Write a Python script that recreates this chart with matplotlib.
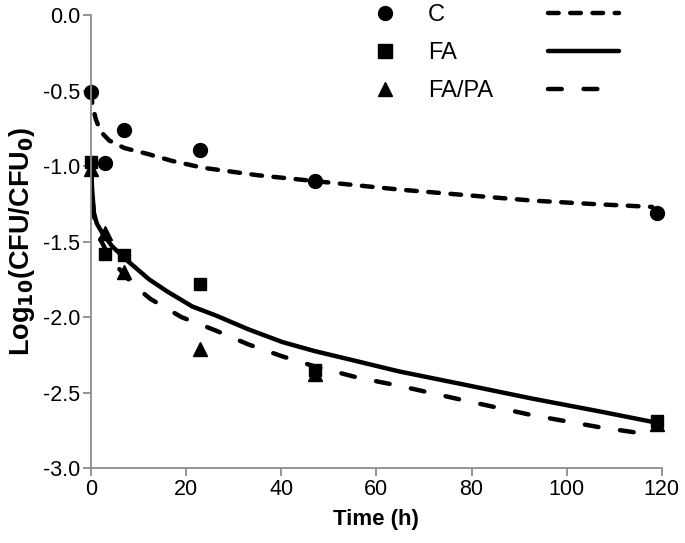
import matplotlib
matplotlib.use("Agg")
import matplotlib.pyplot as plt
from matplotlib.lines import Line2D

plt.rcParams['font.family'] = ['Liberation Sans', 'DejaVu Sans']
plt.rcParams['mathtext.default'] = 'bf'

# observed data
t_obs = [0, 3, 7, 23, 47, 119]
c_obs = [-0.51, -0.98, -0.76, -0.89, -1.10, -1.31]
fa_obs = [-0.97, -1.58, -1.59, -1.78, -2.35, -2.69]
fapa_obs = [-1.02, -1.44, -1.70, -2.21, -2.38, -2.71]

# fitted curves
c_fit_t = [0, 0.3, 1, 2, 3.8, 7, 12, 17, 23.4, 35, 47.4, 64.8, 80, 92.8, 105, 118]
c_fit_y = [-0.51, -0.60, -0.69, -0.77, -0.83, -0.88, -0.92, -0.965, -1.01, -1.06, -1.10, -1.155, -1.195, -1.228, -1.25, -1.27]
fa_fit_t = [0, 0.2, 0.6, 1.2, 2.3, 4.4, 7.4, 12.2, 16, 21.3, 26.3, 33, 40.2, 47, 54.3, 64.8, 78.9, 92.8, 107, 119]
fa_fit_y = [-0.97, -1.15, -1.31, -1.38, -1.44, -1.53, -1.62, -1.75, -1.83, -1.93, -1.99, -2.08, -2.165, -2.225, -2.28, -2.36, -2.45, -2.54, -2.625, -2.70]
fapa_fit_t = [0, 0.2, 0.6, 1.7, 3.5, 5.9, 9, 12.5, 19, 26.3, 33, 40.2, 47.4, 56, 64.8, 78.9, 92.8, 107, 118]
fapa_fit_y = [-1.02, -1.18, -1.33, -1.47, -1.58, -1.68, -1.79, -1.88, -2.00, -2.09, -2.18, -2.26, -2.33, -2.40, -2.455, -2.555, -2.65, -2.73, -2.78]

labels = ['C', 'FA', 'FA/PA']
markers = ['o', 's', '^']

fig = plt.figure(figsize=(6.85, 5.43), dpi=100)
ax = fig.add_axes([0.133, 0.138, 0.833, 0.834])

lw = 3.2
dash_c = (2.4, 2.6)
dash_fapa = (3.1, 4.9)
ax.plot(c_fit_t, c_fit_y, color='black', lw=lw, dashes=dash_c, dash_capstyle='round')
ax.plot(fa_fit_t, fa_fit_y, color='black', lw=lw, solid_capstyle='round', solid_joinstyle='round')
ax.plot(fapa_fit_t, fapa_fit_y, color='black', lw=lw, dashes=dash_fapa, dash_capstyle='round')

ms = 10
ax.plot(t_obs, c_obs, 'o', color='black', ms=ms, ls='none', clip_on=False)
ax.plot(t_obs, fa_obs, 's', color='black', ms=ms - 0.8, ls='none', clip_on=False)
ax.plot(t_obs, fapa_obs, '^', color='black', ms=ms + 0.5, ls='none', clip_on=False)

ax.set_xlim(0, 120)
ax.set_ylim(-3.0, 0.0)
ax.set_xticks([0, 20, 40, 60, 80, 100, 120])
ax.set_yticks([0.0, -0.5, -1.0, -1.5, -2.0, -2.5, -3.0])
ax.set_yticklabels(['0.0', '-0.5', '-1.0', '-1.5', '-2.0', '-2.5', '-3.0'])

for s in ['top', 'right']:
    ax.spines[s].set_visible(False)
for s in ['left', 'bottom']:
    ax.spines[s].set_color('#8c8c8c')
    ax.spines[s].set_linewidth(1.3)
ax.tick_params(axis='both', direction='out', length=6, width=1.3, color='#8c8c8c',
               labelsize=15.5, labelcolor='black', pad=2)

ax.set_xlabel('Time (h)', fontsize=16, fontweight='bold', labelpad=6)
ax.set_ylabel('Log$_{10}$(CFU/CFU$_{0}$)', fontsize=19.5, fontweight='bold', labelpad=4)

h_marks = [Line2D([], [], marker=m, color='black', ls='none', ms=ms) for m in markers]
leg1 = ax.legend(h_marks, labels, loc='upper left', bbox_to_anchor=(0.458, 1.045), frameon=False,
                 fontsize=17, handletextpad=0.8, labelspacing=0.67, borderaxespad=0)
ax.add_artist(leg1)
h_lines = [Line2D([], [], color='black', lw=lw, dashes=dash_c, dash_capstyle='round'),
           Line2D([], [], color='black', lw=lw, solid_capstyle='round'),
           Line2D([], [], color='black', lw=lw, dashes=dash_fapa, dash_capstyle='round')]
ax.legend(h_lines, ['', '', ''], loc='upper left', bbox_to_anchor=(0.784, 1.045), frameon=False,
          fontsize=17, handlelength=3.0, handletextpad=0, labelspacing=0.67, borderaxespad=0)

fig.savefig('out.png', dpi=100)
